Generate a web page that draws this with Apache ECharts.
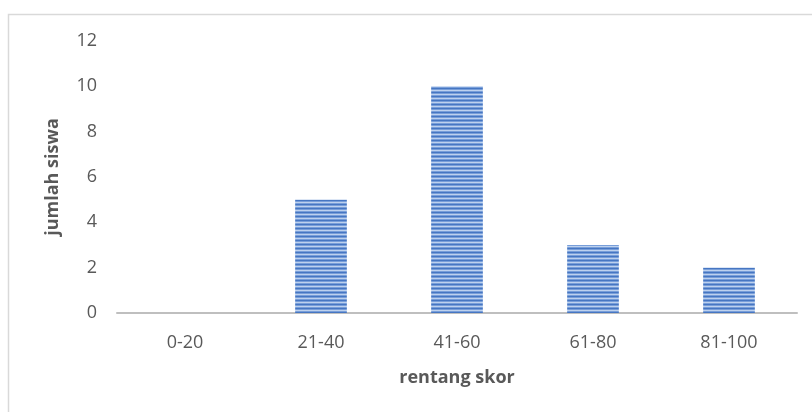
<!DOCTYPE html>
<html>
<head>
<meta charset="utf-8">
<style>
  html, body { margin: 0; padding: 0; background: #ffffff; }
  #chart { width: 812px; height: 412px; }
</style>
<script src="https://cdn.jsdelivr.net/npm/echarts@6/dist/echarts.min.js"></script>
</head>
<body>
<div id="chart"></div>
<script>
// Score ranges and the number of students in each
const categories = ['0-20', '21-40', '41-60', '61-80', '81-100'];
const studentCounts = [0, 5, 10, 3, 2];
const yTicks = { min: 0, max: 12, interval: 2 };

// Horizontal-stripe fill for the bars
function stripePattern() {
  const c = document.createElement('canvas');
  c.width = 4;
  c.height = 4;
  const ctx = c.getContext('2d');
  const rows = ['#4676c2', '#789ed9', '#bdd1ee', '#789ed9'];
  rows.forEach((col, i) => {
    ctx.fillStyle = col;
    ctx.fillRect(0, i, 4, 1);
  });
  return c;
}

const chart = echarts.init(document.getElementById('chart'), null, { renderer: 'canvas' });
const font = '"Open Sans", "Liberation Sans", sans-serif';

chart.setOption({
  backgroundColor: '#ffffff',
  animation: false,
  graphic: [{
    type: 'rect',
    left: 6,
    top: 12,
    shape: { width: 900, height: 500 },
    style: { fill: 'none', stroke: '#d9d9d9', lineWidth: 1.5 },
    silent: true
  }],
  grid: { left: 117, right: 15, top: 41, bottom: 99 },
  xAxis: {
    type: 'category',
    data: categories,
    name: 'rentang skor',
    nameLocation: 'middle',
    nameGap: 56,
    nameTextStyle: { fontFamily: font, fontSize: 18, fontWeight: 'bold', color: '#595959' },
    axisLine: { lineStyle: { color: '#bfbfbf', width: 2 } },
    axisTick: { show: false },
    axisLabel: { fontFamily: font, fontSize: 18, color: '#595959', margin: 21 }
  },
  yAxis: {
    type: 'value',
    min: yTicks.min,
    max: yTicks.max,
    interval: yTicks.interval,
    name: 'jumlah siswa',
    nameLocation: 'middle',
    nameGap: 55,
    nameRotate: 90,
    nameTextStyle: { fontFamily: font, fontSize: 18, fontWeight: 'bold', color: '#595959' },
    axisLine: { show: false },
    axisTick: { show: false },
    splitLine: { show: false },
    axisLabel: { fontFamily: font, fontSize: 18, color: '#595959', margin: 20 }
  },
  series: [{
    type: 'bar',
    data: studentCounts,
    barWidth: '38%',
    itemStyle: {
      color: { image: stripePattern(), repeat: 'repeat' }
    }
  }]
});
</script>
</body>
</html>
